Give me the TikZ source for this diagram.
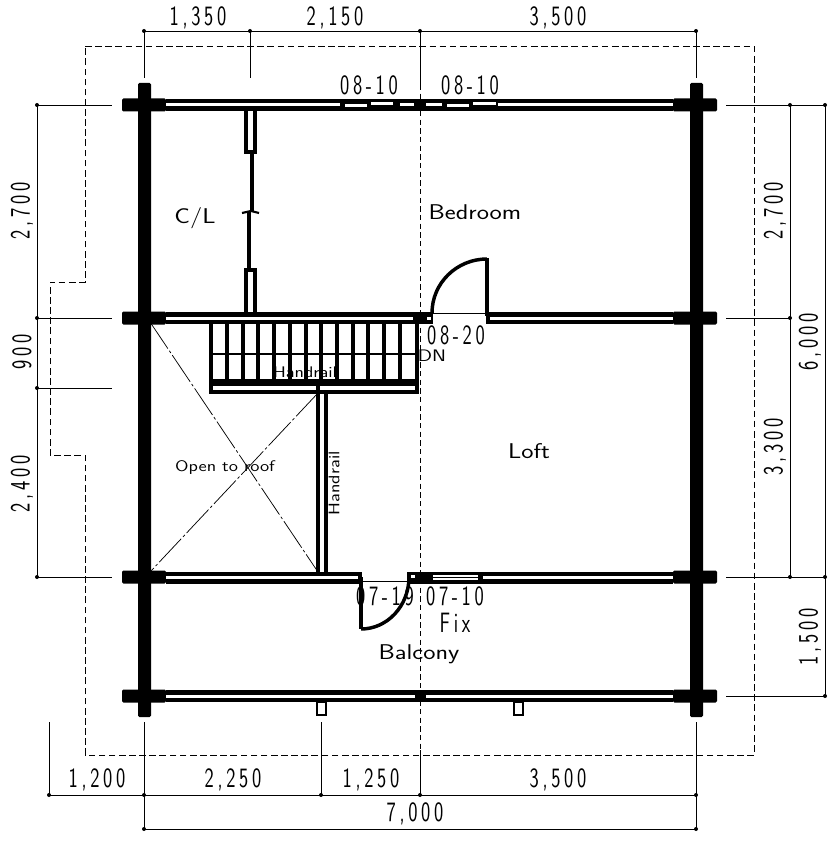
\documentclass[tikz,border=0pt]{standalone}
\usepackage{fontspec}
\setmainfont{Latin Modern Sans}
\newfontfamily\dimfont{Latin Modern Sans}[FakeStretch=0.7,LetterSpace=13]
\newfontfamily\roomfont{Latin Modern Sans}[FakeStretch=1.22]
\usetikzlibrary{calc}

\tikzset{
  wall/.style={fill=black,rounded corners=1pt},
  slot/.style={fill=white},
  thinline/.style={line width=0.65pt},
  roofline/.style={line width=0.65pt,dash pattern=on 5pt off 2.6pt},
  midline/.style={line width=0.65pt,dash pattern=on 4pt off 2.5pt},
  chainline/.style={line width=0.55pt,dash pattern=on 24pt off 2pt on 2pt off 2pt},
  frameline/.style={line width=2.4pt},
  boxline/.style={line width=3pt},
  leaf/.style={line width=2.6pt},
  dimtext/.style={font=\dimfont\fontsize{21}{21}\selectfont,inner sep=0pt},
  roomtext/.style={font=\roomfont\fontsize{16}{16}\selectfont,inner sep=0pt},
  smalltext/.style={font=\roomfont\fontsize{11.5}{11.5}\selectfont,inner sep=0pt},
  dot/.style={circle,fill=black,inner sep=0pt,minimum size=3pt}
}

\begin{document}
\begin{tikzpicture}[x=0.75pt,y=-0.75pt]

\useasboundingbox (0,0) rectangle (839,841);

% roof outline
\draw[roofline] (85,46) -- (754,46) -- (754,755) -- (85,755) -- (85,455) -- (50,455) -- (50,282) -- (85,282) -- cycle;

% centre line
\draw[midline] (420,85) -- (420,750);
\draw[thinline] (420,31) -- (420,85);
\draw[thinline] (420,750) -- (420,795);

% columns
\fill[wall] (138,83) rectangle (151,717);
\fill[wall] (690,83) rectangle (703,717);

% end blocks of the walls
\foreach \wy in {105,318,577,696} {
  \fill[wall] (122,\wy-6.5) rectangle (166,\wy+6.5);
  \fill[wall] (673,\wy-6.5) rectangle (717,\wy+6.5);
}

% top wall
\fill (166,99) rectangle (673,111);
\fill[slot] (166,103.5) rectangle (340,106.5);
\fill[slot] (345,104.5) rectangle (367,107);
\fill[slot] (371,102.5) rectangle (393,105);
\fill[slot] (400,103.5) rectangle (414,106.5);
\fill[slot] (426,103.5) rectangle (442,106.5);
\fill[slot] (447,104.5) rectangle (469,107);
\fill[slot] (473,102.5) rectangle (496,105);
\fill[slot] (498,103.5) rectangle (673,106.5);

% middle wall and door 08-20
\fill (166,312) rectangle (433,324);
\fill (486,312) rectangle (673,324);
\fill[slot] (166,316.5) rectangle (413,319.5);
\fill[slot] (490,316.5) rectangle (673,319.5);
\fill[slot] (427,317) rectangle (431,320);
\draw[thinline] (433,313) -- (486,313);
\draw[frameline] (487,258) -- (487,316);
\draw[leaf] (487,259) arc[start angle=270,end angle=180,x radius=55,y radius=54];

% lower wall, door 07-19 and window 07-10
\fill (166,571.5) rectangle (362,583.5);
\fill (407,571.5) rectangle (433,583.5);
\fill (478,571.5) rectangle (673,583.5);
\fill (433,572) rectangle (478,575);
\fill (433,580) rectangle (478,583.5);
\draw[thinline] (433,577.5) -- (478,577.5);
\draw[thinline] (362,581) -- (407,581);
\fill[slot] (166,575.5) rectangle (358,578.5);
\fill[slot] (411,575) rectangle (415,578);
\fill[slot] (483,575.5) rectangle (673,578.5);
\draw[leaf] (361,577) -- (361,629);
\draw[leaf] (361,629) arc[start angle=90,end angle=0,x radius=48,y radius=52];

% balcony wall and posts
\fill (166,690) rectangle (673,702);
\fill[slot] (166,694.5) rectangle (415,697.5);
\fill[slot] (426,694.5) rectangle (673,697.5);
\foreach \px in {317,514} {
  \draw[line width=1.6pt] (\px,702) rectangle (\px+9,715);
}

% closet partition
\draw[boxline] (246,111) -- (246,152) -- (255,152) -- (255,111);
\draw[boxline] (246,312) -- (246,270) -- (255,270) -- (255,312);
\draw[line width=2.8pt] (252,152) -- (252,212);
\draw[line width=2.6pt] (249,212) -- (249,270);
\draw[line width=1.6pt] (242,213) -- (251,211) -- (259,213);

% stairs
\foreach \tx in {227,243,258,274,290,306,321,337,353,368,384,400} {
  \draw[line width=3pt] (\tx,324) -- (\tx,380);
}
\draw[frameline] (211,323) -- (211,392) -- (417,392) -- (417,323);
\draw[line width=1.6pt] (211,354) -- (417,354);
\draw[line width=4.8pt] (211,382.5) -- (417,382.5);

% handrail
\draw[frameline] (318,386) -- (318,572);
\draw[frameline] (326,392) -- (326,572);

% open to roof
\draw[chainline] (150,322) -- (318,572);
\draw[chainline] (318,393) -- (150,572);

% dimensions, top
\draw[thinline] (144,31) -- (696,31);
\foreach \dx in {144,250,696} {
  \draw[thinline] (\dx,31) -- (\dx,78);
}
\foreach \dx in {144,250,420,696} {
  \node[dot] (t\dx) at (\dx,31) {};
}
\node[dimtext] (dimA) at (198,18) {1,350};
\node[dimtext] (dimB) at (335,18) {2,150};
\node[dimtext] (dimC) at (558,18) {3,500};

% dimensions, left
\draw[thinline] (37,105) -- (37,577);
\foreach \dy in {105,318,388,577} {
  \draw[thinline] (37,\dy) -- (112,\dy);
  \node[dot] (l\dy) at (37,\dy) {};
}
\node[dimtext,rotate=90] (dimD) at (22,211) {2,700};
\node[dimtext,rotate=90] (dimE) at (22,352) {900};
\node[dimtext,rotate=90] (dimF) at (22,484) {2,400};

% dimensions, right
\draw[thinline] (790,105) -- (790,577);
\draw[thinline] (825,105) -- (825,696);
\draw[thinline] (726,105) -- (825,105);
\draw[thinline] (726,318) -- (790,318);
\draw[thinline] (726,577) -- (825,577);
\draw[thinline] (726,696) -- (825,696);
\foreach \dy in {105,318,577} {
  \node[dot] (r\dy) at (790,\dy) {};
}
\foreach \dy in {105,577,696} {
  \node[dot] (s\dy) at (825,\dy) {};
}
\node[dimtext,rotate=90] (dimG) at (775,211) {2,700};
\node[dimtext,rotate=90] (dimH) at (810,342) {6,000};
\node[dimtext,rotate=90] (dimI) at (775,447) {3,300};
\node[dimtext,rotate=90] (dimJ) at (810,637) {1,500};

% dimensions, bottom
\draw[thinline] (49,795) -- (696,795);
\draw[thinline] (144,829) -- (696,829);
\foreach \dx in {49,321} {
  \draw[thinline] (\dx,722) -- (\dx,795);
}
\foreach \dx in {144,696} {
  \draw[thinline] (\dx,722) -- (\dx,829);
  \node[dot] (u\dx) at (\dx,829) {};
}
\foreach \dx in {49,144,321,420,696} {
  \node[dot] (b\dx) at (\dx,795) {};
}
\node[dimtext] (dimK) at (97,780) {1,200};
\node[dimtext] (dimL) at (233,780) {2,250};
\node[dimtext] (dimM) at (371,780) {1,250};
\node[dimtext] (dimN) at (558,780) {3,500};
\node[dimtext] (dimO) at (415,814) {7,000};

% openings
\node[dimtext] (winA) at (369,85) {08-10};
\node[dimtext] (winB) at (470,85) {08-10};
\node[dimtext] (doorA) at (456,335) {08-20};
\node[dimtext] (doorB) at (385,596) {07-19};
\node[dimtext] (winC) at (455,596) {07-10};
\node[dimtext] (fix) at (455,623) {Fix};

% rooms
\node[roomtext] (closet) at (195,218) {C/L};
\node[roomtext] (bedroom) at (475,212) {Bedroom};
\node[roomtext] (loft) at (529,451) {Loft};
\node[roomtext] (balcony) at (419,654) {Balcony};
\node[smalltext] (roof) at (225,468) {Open to roof};
\node[smalltext] (railA) at (305,372) {Handrail};
\node[smalltext,rotate=90] (railB) at (334,483) {Handrail};
\node[smalltext,font=\roomfont\fontsize{12.5}{12.5}\selectfont] (down) at (432,356) {DN};

\end{tikzpicture}
\end{document}
